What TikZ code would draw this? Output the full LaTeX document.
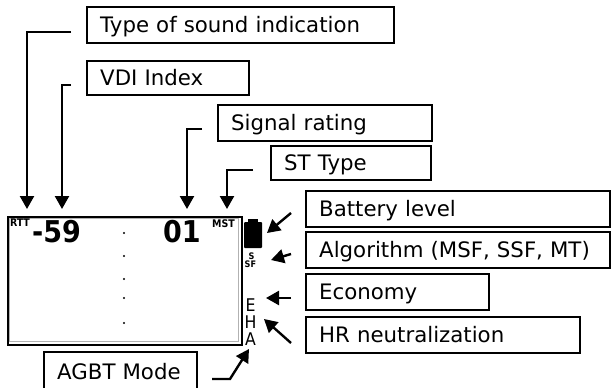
\documentclass[tikz,border=0pt]{standalone}
\usepackage{fontspec}
\setmainfont{DejaVu Sans}
\newfontfamily\condfont{DejaVu Sans Condensed}
\usetikzlibrary{arrows.meta}
\newcommand{\lblfont}{\fontsize{21.3}{25}\selectfont}
\newcommand{\lcdbig}{\condfont\bfseries\fontsize{30}{30}\selectfont}
\newcommand{\lcdsmall}{\condfont\bfseries\fontsize{10.5}{11}\selectfont}
\newcommand{\lcdtiny}{\condfont\bfseries\fontsize{9}{9}\selectfont}
\newcommand{\lcdmid}{\condfont\fontsize{17.5}{18}\selectfont}
\tikzset{
  lbl/.style={draw, line width=2.4pt, anchor=west, inner xsep=13pt, inner ysep=0pt,
    align=left, font=\lblfont, minimum height=36pt, text height=15.5pt, text depth=0pt},
  conn/.style={line width=2.4pt, -{Triangle[length=13pt,width=14pt]}},
  lcdtxt/.style={inner sep=0pt, anchor=base west},
}
\begin{document}
\begin{tikzpicture}[x=1pt,y=-1pt]
\useasboundingbox (0,0) rectangle (614,388);
\begin{scope}
\clip (0,0) rectangle (614,388);
% label boxes
\node[lbl, text width=281pt] (type) at (86,25) {Type of sound indication};
\node[lbl, text width=136pt, minimum height=34pt] (vdi) at (86,78) {VDI Index};
\node[lbl, text width=188pt] (sig) at (217,123) {Signal rating};
\node[lbl, text width=134pt, minimum height=34pt] (st) at (270,163) {ST Type};
\node[lbl, text width=278pt] (batt) at (305,209) {Battery level};
\node[lbl, text width=278pt] (alg) at (305,250) {Algorithm (MSF, SSF, MT)};
\node[lbl, text width=157pt] (eco) at (305,292) {Economy};
\node[lbl, text width=248pt] (hr) at (305,335) {HR neutralization};
\node[lbl, text width=127pt, minimum height=40pt] (agbt) at (43,372) {AGBT Mode};
\end{scope}

% LCD frame
\node[draw, line width=2.2pt, minimum width=234pt, minimum height=128pt, anchor=north west, inner sep=0pt] (lcd) at (7,216) {};
\draw[gray!60, line width=1.3pt] (9.4,218.4) rectangle (238.6,341.6);

% LCD contents
\node[lcdtxt, font=\lcdsmall] (rtt) at (9.8,226.5) {RTT};
\node[lcdtxt, font=\lcdbig] (vdival) at (32,242) {-59};
\node[lcdtxt, font=\lcdbig] (sigval) at (163,242) {01};
\node[lcdtxt, font=\lcdsmall] (mst) at (212,227.5) {MST};
\foreach \yy in {233,256,279,298,323} \fill (124,\yy) circle (1.1pt);
% battery
\fill[rounded corners=1pt] (244,222) rectangle (262,248);
\fill (248,219) rectangle (258,223);
\node[lcdtxt, font=\lcdtiny] (s1) at (248.3,259) {S};
\node[lcdtxt, font=\lcdtiny] (s2) at (244.5,267.5) {SF};
\node[inner sep=0pt, anchor=base, font=\lcdmid] (le) at (250.5,311) {E};
\node[inner sep=0pt, anchor=base, font=\lcdmid] (lh) at (250.5,328) {H};
\node[inner sep=0pt, anchor=base, font=\lcdmid] (la) at (250.5,345) {A};

% connector endpoints
\coordinate (c1) at (71,32);  \coordinate (t1) at (27,209);
\coordinate (c2) at (71,85);  \coordinate (t2) at (62,209);
\coordinate (c3) at (202,129); \coordinate (t3) at (187,209);
\coordinate (c4) at (253,170); \coordinate (t4) at (227,209);
\draw[conn] (c1) -| (t1);
\draw[conn] (c2) -| (t2);
\draw[conn] (c3) -| (t3);
\draw[conn] (c4) -| (t4);

\coordinate (c5) at (291,213); \coordinate (t5) at (267,233);
\coordinate (c6) at (291,254); \coordinate (t6) at (271,260);
\coordinate (c7) at (291,298); \coordinate (t7) at (266,298);
\coordinate (c8) at (291,343); \coordinate (t8) at (264,319);
\coordinate (c9) at (212,379); \coordinate (k9) at (230,379); \coordinate (t9) at (249,349);
\draw[conn] (c5) -- (t5);
\draw[conn] (c6) -- (t6);
\draw[conn] (c7) -- (t7);
\draw[conn] (c8) -- (t8);
\draw[conn] (c9) -- (k9) -- (t9);
\end{tikzpicture}
\end{document}
